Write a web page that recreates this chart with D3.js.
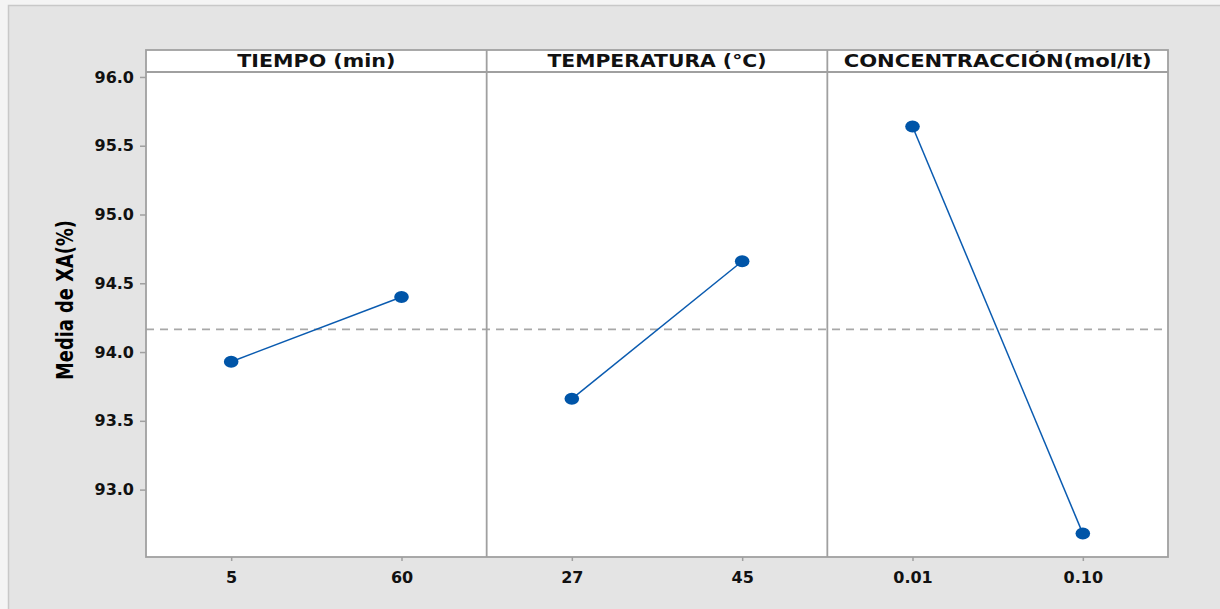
<!DOCTYPE html>
<html><head><meta charset="utf-8">
<script src="https://cdn.jsdelivr.net/npm/d3@7"></script>
<style>body{margin:0;background:#f4f4f4;}svg{display:block;}</style>
</head><body>
<script>
const factors = ["TIEMPO (min)", "TEMPERATURA (°C)", "CONCENTRACCIÓN(mol/lt)"];
const levels = [["5","60"],["27","45"],["0.01","0.10"]];
const means = [[93.93,94.40],[93.66,94.66],[95.64,92.68]];
const grandMean = 94.165;
const yTicks = [93.0,93.5,94.0,94.5,95.0,95.5,96.0];
const yLabel = "Media de XA(%)";
const headerWidths = [158,219,308];

const W=1220,H=609;
const L=146,R=1168,T=50,HB=72,B=557;
const FONT="DejaVu Sans";
const svg=d3.select("body").append("svg").attr("width",W).attr("height",H);
svg.append("rect").attr("x",8.5).attr("y",5.5).attr("width",W).attr("height",H)
  .attr("fill","#e4e4e4").attr("stroke","#c8c8c8").attr("stroke-width",1.5);

const y=d3.scaleLinear().domain([92.51,96.036]).range([B,HB]);
const panelX=d3.scaleBand().domain(d3.range(factors.length)).range([L,R]).padding(0);
const pw=panelX.bandwidth();

svg.append("rect").attr("x",L).attr("y",T).attr("width",R-L).attr("height",B-T).attr("fill","#fff");

svg.append("line").attr("x1",L).attr("x2",R).attr("y1",y(grandMean)).attr("y2",y(grandMean))
  .attr("stroke","#a8a8a8").attr("stroke-width",1.6).attr("stroke-dasharray","8,6");

factors.forEach((f,i)=>{
  const x0=panelX(i);
  const x=d3.scalePoint().domain(levels[i]).range([x0,x0+pw]).padding(0.5);
  const g=svg.append("g");
  g.append("text").attr("x",x0+pw/2).attr("y",T+17).attr("text-anchor","middle")
    .attr("font-family",FONT).attr("font-weight","bold").attr("font-size",17).attr("fill","#111")
    .attr("textLength",headerWidths[i]).attr("lengthAdjust","spacingAndGlyphs").text(f);
  const ax=svg.append("g").attr("transform",`translate(0,${B})`)
    .call(d3.axisBottom(x).tickSize(4).tickPadding(8));
  ax.select(".domain").remove();
  ax.selectAll(".tick line").attr("stroke","#a0a0a0").attr("stroke-width",1.5);
  ax.selectAll(".tick text").attr("font-family",FONT).attr("font-weight","bold").attr("font-size",16).attr("fill","#111").attr("dy","0.85em");
  const pts=levels[i].map((l,j)=>[x(l),y(means[i][j])]);
  g.append("path").attr("d",d3.line()(pts)).attr("fill","none").attr("stroke","#0a5bb0").attr("stroke-width",1.5);
  g.selectAll("ellipse").data(pts).join("ellipse").attr("cx",d=>d[0]).attr("cy",d=>d[1])
    .attr("rx",7.3).attr("ry",6).attr("fill","#0055a8");
  if(i>0) svg.append("line").attr("x1",x0).attr("x2",x0).attr("y1",T).attr("y2",B).attr("stroke","#a0a0a0").attr("stroke-width",1.8);
});

const ay=svg.append("g").attr("transform",`translate(${L},0)`).call(d3.axisLeft(y).tickValues(yTicks).tickFormat(d3.format(".1f")).tickSize(6).tickPadding(6));
ay.select(".domain").remove();
ay.selectAll(".tick line").attr("stroke","#a0a0a0").attr("stroke-width",1.5);
ay.selectAll(".tick text").attr("font-family",FONT).attr("font-weight","bold").attr("font-size",16).attr("fill","#111");

svg.append("rect").attr("x",L).attr("y",T).attr("width",R-L).attr("height",B-T).attr("fill","none").attr("stroke","#a0a0a0").attr("stroke-width",1.8);
svg.append("line").attr("x1",L).attr("x2",R).attr("y1",HB).attr("y2",HB).attr("stroke","#a0a0a0").attr("stroke-width",1.8);

svg.append("text").attr("transform",`translate(73,300) rotate(-90)`).attr("text-anchor","middle")
  .attr("font-family",FONT).attr("font-weight","bold").attr("font-size",23).attr("fill","#000")
  .attr("textLength",160).attr("lengthAdjust","spacingAndGlyphs").text(yLabel);
</script>
</body></html>
